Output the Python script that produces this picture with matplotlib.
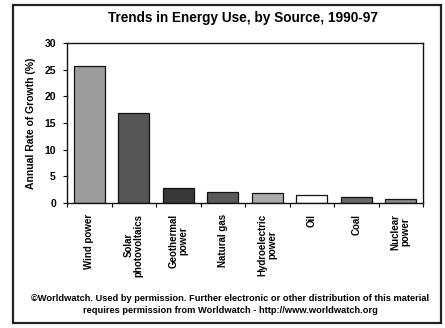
import matplotlib
matplotlib.use("Agg")
import matplotlib.pyplot as plt
from matplotlib.patches import Rectangle

# Average annual growth rate by energy source, 1990-97 (%)
sources = ["Wind power", "Solar\nphotovoltaics", "Geothermal\npower", "Natural gas",
           "Hydroelectric\npower", "Oil", "Coal", "Nuclear\npower"]
growth = [25.7, 16.9, 2.9, 2.1, 1.8, 1.5, 1.2, 0.7]
bar_colors = ["#9c9c9c", "#565656", "#383838", "#5a5a5a", "#a9a9a9", "#ffffff", "#686868", "#8a8a8a"]
y_ticks = [0, 5, 10, 15, 20, 25, 30]

title = "Trends in Energy Use, by Source, 1990-97"
y_label = "Annual Rate of Growth (%)"
credit = ("\u00a9Worldwatch. Used by permission. Further electronic or other distribution of this material\n"
          "requires permission from Worldwatch - http://www.worldwatch.org")

FONT = ["Liberation Sans Narrow", "Liberation Sans", "DejaVu Sans"]
plt.rcParams["font.family"] = FONT

fig = plt.figure(figsize=(4.45, 3.28), dpi=100)
fig.patch.set_facecolor("white")

# outer frame
fig.patches.append(Rectangle((0.030, 0.016), 0.962, 0.969, transform=fig.transFigure,
                             fill=False, edgecolor="#222222", linewidth=1.6))

ax = fig.add_axes([0.1506, 0.381, 0.800, 0.488])
x = range(len(sources))
ax.bar(x, growth, width=0.70, color=bar_colors, edgecolor="#111111", linewidth=0.9)

ax.set_xlim(-0.5, len(sources) - 0.5)
ax.set_ylim(0, 30)
ax.set_yticks(y_ticks)
ax.set_yticklabels([str(v) for v in y_ticks], fontsize=7.5, fontweight="bold")

# category ticks sit on the boundaries between bars
ax.set_xticks([i + 0.5 for i in range(-1, len(sources))], minor=False)
ax.set_xticklabels([])
ax.tick_params(axis="x", which="major", direction="out", length=3, width=0.8)
ax.tick_params(axis="y", direction="out", length=3, width=0.8, pad=5)
for i, name in enumerate(sources):
    ax.text(i, -2.0, name, rotation=90, ha="center", va="top",
            fontsize=7, fontweight="bold", linespacing=1.0)

for s in ax.spines.values():
    s.set_linewidth(1.0)
    s.set_color("#111111")

ax.set_ylabel(y_label, fontsize=7.5, fontweight="bold", labelpad=6)

fig.text(0.546, 0.945, title, ha="center", va="center", fontsize=9.8, fontweight="bold")
fig.text(0.517, 0.071, credit, ha="center", va="center", fontsize=6.7,
         fontweight="bold", linespacing=1.45)

fig.savefig("out.png", dpi=100, facecolor="white")
